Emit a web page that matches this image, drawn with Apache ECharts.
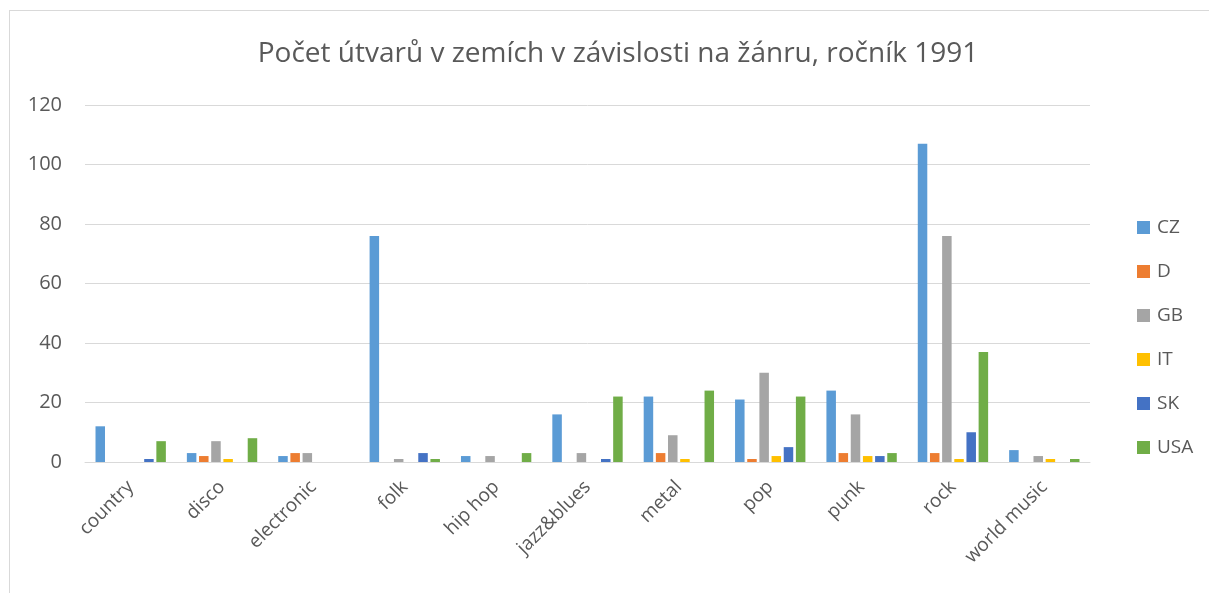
<!DOCTYPE html>
<html>
<head>
<meta charset="utf-8">
<script src="https://cdn.jsdelivr.net/npm/echarts@6/dist/echarts.min.js"></script>
<style>
  html, body { margin: 0; padding: 0; background: #fff; }
  #frame { position: absolute; left: 9px; top: 10px; width: 1210px; height: 600px; border: 1px solid #d9d9d9; box-sizing: border-box; }
  #chart { position: absolute; left: 0; top: 0; width: 1209px; height: 593px; }
</style>
</head>
<body>
<div id="frame"></div>
<div id="chart"></div>
<script>
// genres and counts per country
var genres = ['country', 'disco', 'electronic', 'folk', 'hip hop', 'jazz&blues', 'metal', 'pop', 'punk', 'rock', 'world music'];
var cz  = [12, 3, 2, 76, 2, 16, 22, 21, 24, 107, 4];
var d   = [0, 2, 3, 0, 0, 0, 3, 1, 3, 3, 0];
var gb  = [0, 7, 3, 1, 2, 3, 9, 30, 16, 76, 2];
var it  = [0, 1, 0, 0, 0, 0, 1, 2, 2, 1, 1];
var sk  = [1, 0, 0, 3, 0, 1, 0, 5, 2, 10, 0];
var usa = [7, 8, 0, 1, 3, 22, 24, 22, 3, 37, 1];
var yTicks = [0, 20, 40, 60, 80, 100, 120];

var names = ['CZ', 'D', 'GB', 'IT', 'SK', 'USA'];
var colors = ['#5B9BD5', '#ED7D31', '#A5A5A5', '#FFC000', '#4472C4', '#70AD47'];
var values = [cz, d, gb, it, sk, usa];

var font = 'Open Sans';
var myChart = echarts.init(document.getElementById('chart'));

var series = names.map(function (n, i) {
  return {
    name: n,
    type: 'bar',
    data: values[i],
    barGap: '28%',
    barCategoryGap: '23%',
    itemStyle: { color: colors[i] }
  };
});

myChart.setOption({
  animation: false,
  color: colors,
  title: {
    text: 'Počet útvarů v zemích v závislosti na žánru, ročník 1991',
    left: 613,
    textAlign: 'center',
    top: 35,
    textStyle: { fontFamily: font, fontSize: 28, fontWeight: 'normal', color: '#595959' }
  },
  legend: {
    orient: 'vertical',
    left: 1132,
    top: 213,
    itemGap: 25,
    itemWidth: 13,
    itemHeight: 13,
    icon: 'rect',
    textStyle: { fontFamily: font, fontSize: 19, color: '#595959', padding: [0, 0, 0, 2] },
    data: names
  },
  grid: { left: 85, right: 119, top: 105, bottom: 131, containLabel: false },
  xAxis: {
    type: 'category',
    data: genres,
    axisLine: { lineStyle: { color: '#d9d9d9', width: 1 } },
    axisTick: { show: false },
    axisLabel: { rotate: 45, fontFamily: font, fontSize: 19, color: '#595959', margin: 22, interval: 0 }
  },
  yAxis: {
    type: 'value',
    min: yTicks[0],
    max: yTicks[yTicks.length - 1],
    interval: 20,
    axisLine: { show: false },
    axisTick: { show: false },
    axisLabel: { fontFamily: font, fontSize: 20, color: '#595959', margin: 23 },
    splitLine: { lineStyle: { color: '#d9d9d9', width: 1 } }
  },
  series: series
});
</script>
</body>
</html>
